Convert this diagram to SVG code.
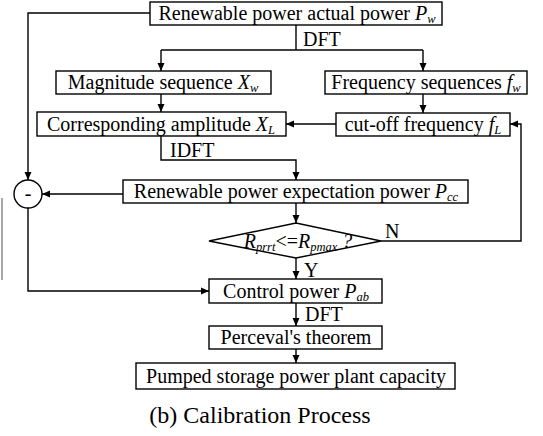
<svg xmlns="http://www.w3.org/2000/svg" width="543" height="436" viewBox="0 0 543 436" font-family="'Liberation Serif', 'Times New Roman', 'DejaVu Serif', serif">
<style>
.box{fill:#fff;stroke:#000;stroke-width:1.4}
.ln{fill:none;stroke:#000;stroke-width:1.4}
.ar{marker-end:url(#ah)}
.t{font-size:20px;text-anchor:middle}
.lb{font-size:20px}
.i{font-style:italic}
.s{font-size:12.5px;font-style:italic}
</style>
<defs>
<marker id="ah" markerUnits="userSpaceOnUse" markerWidth="8" markerHeight="8" refX="8" refY="4" orient="auto">
<path d="M0,0.5 L8,4 L0,7.5 z" fill="#000"/>
</marker>
</defs>
<rect width="543" height="436" fill="#fff"/>
<line x1="2" y1="198" x2="2" y2="280" stroke="#888" stroke-width="1.5"/>
<g id="connectors">
<path class="ln" d="M296,25 V50"/>
<path class="ln" d="M161,50 H423"/>
<path class="ln ar" d="M161,50 V71"/>
<path class="ln ar" d="M423,50 V71"/>
<path class="ln ar" d="M161,94 V112"/>
<path class="ln ar" d="M423,94 V113"/>
<path class="ln ar" d="M336,124 H286"/>
<path class="ln ar" d="M150,13 H28 V180"/>
<path class="ln ar" d="M161,136 V160 H296 V180"/>
<path class="ln ar" d="M123,194 H42"/>
<path class="ln ar" d="M28,208 V291 H209"/>
<path class="ln ar" d="M296,203 V223"/>
<path class="ln ar" d="M381,241 H521 V124 H510"/>
<path class="ln ar" d="M296,258 V279"/>
<path class="ln ar" d="M296,303 V326"/>
<path class="ln ar" d="M296,349 V363"/>
<text class="lb" x="303" y="46">DFT</text>
<text class="lb" x="170" y="157">IDFT</text>
<text class="lb" x="385" y="238">N</text>
<text class="lb" x="304" y="277">Y</text>
<text class="lb" x="305" y="321">DFT</text>
</g>
<g id="n-actual">
<rect class="box" x="150" y="2" width="292" height="23"/>
<text class="t" x="297" y="20">Renewable power actual power <tspan class="i">P</tspan><tspan class="s" dy="3">w</tspan></text>
</g>
<g id="n-magnitude">
<rect class="box" x="56" y="71" width="215" height="23"/>
<text class="t" x="163" y="89">Magnitude sequence <tspan class="i">X</tspan><tspan class="s" dy="3">w</tspan></text>
</g>
<g id="n-frequency">
<rect class="box" x="325" y="71" width="202" height="23"/>
<text class="t" x="426" y="89">Frequency sequences <tspan class="i">f</tspan><tspan class="s" dy="3">w</tspan></text>
</g>
<g id="n-amplitude">
<rect class="box" x="37" y="112" width="249" height="24"/>
<text class="t" x="161" y="131">Corresponding amplitude <tspan class="i">X</tspan><tspan class="s" dy="3">L</tspan></text>
</g>
<g id="n-cutoff">
<rect class="box" x="336" y="113" width="174" height="23"/>
<text class="t" x="423" y="131">cut-off frequency <tspan class="i">f</tspan><tspan class="s" dy="3">L</tspan></text>
</g>
<g id="n-minus">
<circle class="box" cx="28" cy="194" r="14"/>
<text class="t" x="28" y="200">-</text>
</g>
<g id="n-expectation">
<rect class="box" x="123" y="180" width="345" height="23"/>
<text class="t" x="296" y="198">Renewable power expectation power <tspan class="i">P</tspan><tspan class="s" dy="3">cc</tspan></text>
</g>
<g id="n-decision">
<polygon class="box" points="209,241 296,223 381,241 296,258"/>
<text class="t" x="298" y="248"><tspan class="i">R</tspan><tspan class="s" dy="3">prrt</tspan><tspan dy="-3">&lt;=</tspan><tspan class="i">R</tspan><tspan class="s" dy="3">pmax</tspan><tspan class="i" dy="-3"> ?</tspan></text>
</g>
<g id="n-control">
<rect class="box" x="209" y="279" width="173" height="24"/>
<text class="t" x="296" y="298">Control power <tspan class="i">P</tspan><tspan class="s" dy="3">ab</tspan></text>
</g>
<g id="n-perceval">
<rect class="box" x="209" y="326" width="173" height="23"/>
<text class="t" x="296" y="344">Perceval's theorem</text>
</g>
<g id="n-capacity">
<rect class="box" x="136" y="363" width="319" height="26"/>
<text class="t" x="296" y="383">Pumped storage power plant capacity</text>
</g>
<text x="260" y="423" font-size="24" text-anchor="middle">(b) Calibration Process</text>
</svg>
